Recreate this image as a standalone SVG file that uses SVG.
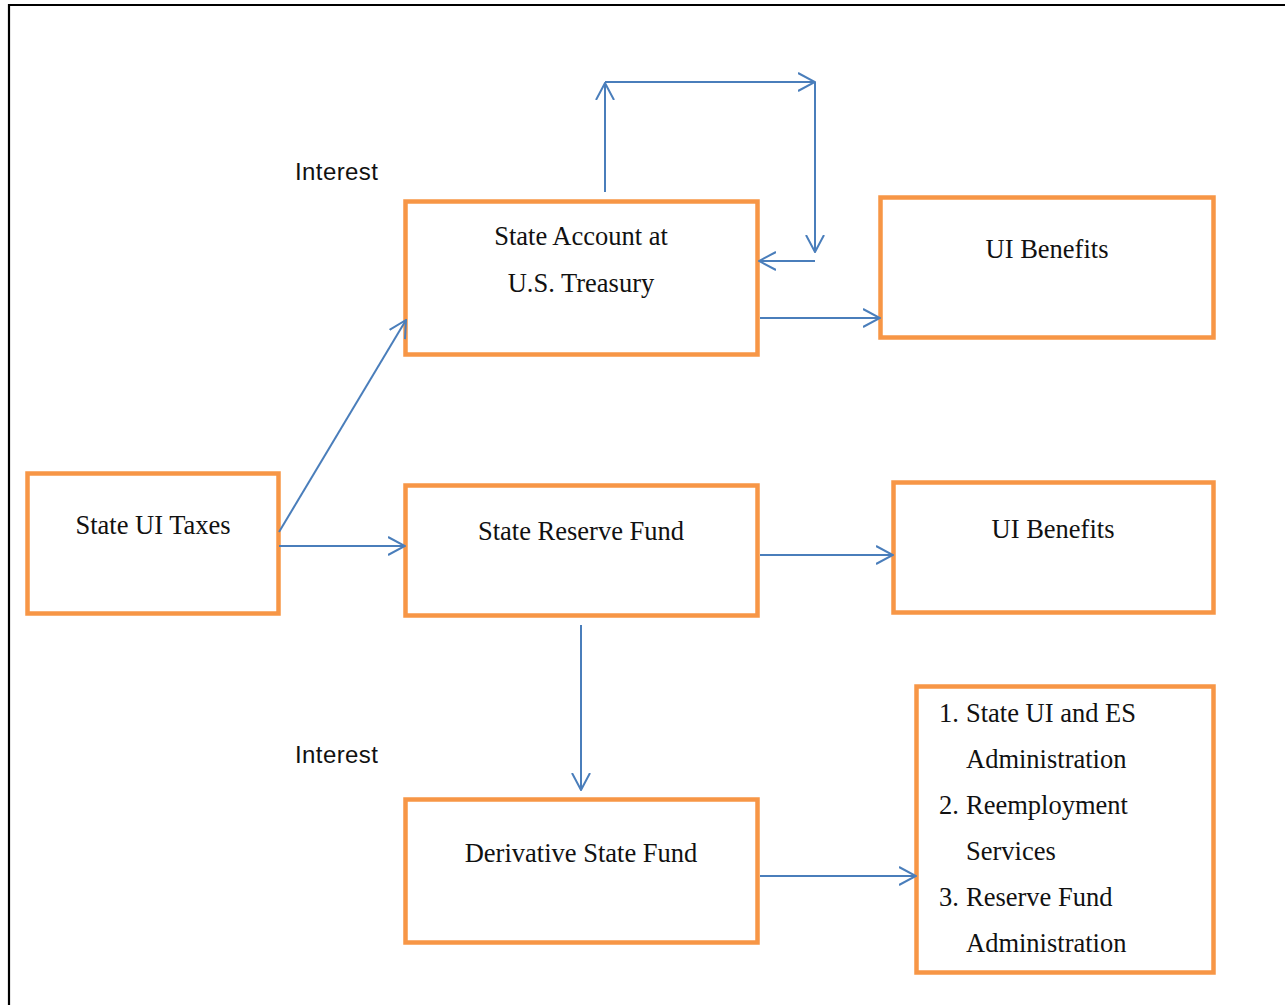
<svg xmlns="http://www.w3.org/2000/svg" width="1285" height="1005" viewBox="0 0 1285 1005">
<style>
.box{fill:#fff;stroke:#F79646;stroke-width:4.5}
.t{font-family:"Liberation Serif","Times New Roman",serif;font-size:26.5px;fill:#111}
.c{text-anchor:middle}
.s{font-family:"Liberation Sans",Arial,sans-serif;font-size:24px;letter-spacing:0.4px;fill:#111}
.ln{stroke:#4A7EBB;stroke-width:2;fill:none;marker-end:url(#ah)}
</style>
<defs>
<marker id="ah" markerUnits="userSpaceOnUse" viewBox="0 0 18 20" refX="17" refY="10" markerWidth="18" markerHeight="20" orient="auto">
<path d="M0,1 L17,10 L0,19" fill="none" stroke="#4A7EBB" stroke-width="2"/>
</marker>
</defs>
<rect width="1285" height="1005" fill="#fff"/>
<path d="M9,1010 L9,5 L1290,5" fill="none" stroke="#000" stroke-width="2.2"/>
<g id="labels">
<text class="s" x="295" y="180">Interest</text>
<text class="s" x="295" y="763">Interest</text>
</g>
<g id="n-account">
<rect class="box" x="405.5" y="201.5" width="352" height="153"/>
<text class="t c" x="581" y="245">State Account at</text>
<text class="t c" x="581" y="292">U.S. Treasury</text>
</g>
<g id="n-benefits1">
<rect class="box" x="880.5" y="197.5" width="333" height="140"/>
<text class="t c" x="1047" y="258">UI Benefits</text>
</g>
<g id="n-taxes">
<rect class="box" x="27.5" y="473.5" width="251" height="140"/>
<text class="t c" x="153" y="534">State UI Taxes</text>
</g>
<g id="n-reserve">
<rect class="box" x="405.5" y="485.5" width="352" height="130"/>
<text class="t c" x="581" y="540">State Reserve Fund</text>
</g>
<g id="n-benefits2">
<rect class="box" x="893.5" y="482.5" width="320" height="130"/>
<text class="t c" x="1053" y="538">UI Benefits</text>
</g>
<g id="n-derivative">
<rect class="box" x="405.5" y="799.5" width="352" height="143"/>
<text class="t c" x="581" y="862">Derivative State Fund</text>
</g>
<g id="n-uses">
<rect class="box" x="916.5" y="686.5" width="297" height="286"/>
<text class="t" x="939" y="722">1.</text>
<text class="t" x="966" y="722">State UI and ES</text>
<text class="t" x="966" y="768">Administration</text>
<text class="t" x="939" y="814">2.</text>
<text class="t" x="966" y="814">Reemployment</text>
<text class="t" x="966" y="860">Services</text>
<text class="t" x="939" y="906">3.</text>
<text class="t" x="966" y="906">Reserve Fund</text>
<text class="t" x="966" y="952">Administration</text>
</g>
<g id="connectors">
<line class="ln" x1="605" y1="192" x2="605" y2="83"/>
<line class="ln" x1="605" y1="82" x2="815" y2="82"/>
<line class="ln" x1="815" y1="82" x2="815" y2="252"/>
<line class="ln" x1="815" y1="261" x2="759" y2="261"/>
<line class="ln" x1="760" y1="318" x2="880" y2="318"/>
<line class="ln" x1="279" y1="532" x2="406" y2="320"/>
<line class="ln" x1="279" y1="546" x2="405" y2="546"/>
<line class="ln" x1="760" y1="555" x2="893" y2="555"/>
<line class="ln" x1="581" y1="625" x2="581" y2="790"/>
<line class="ln" x1="760" y1="876" x2="916" y2="876"/>
</g>
</svg>
